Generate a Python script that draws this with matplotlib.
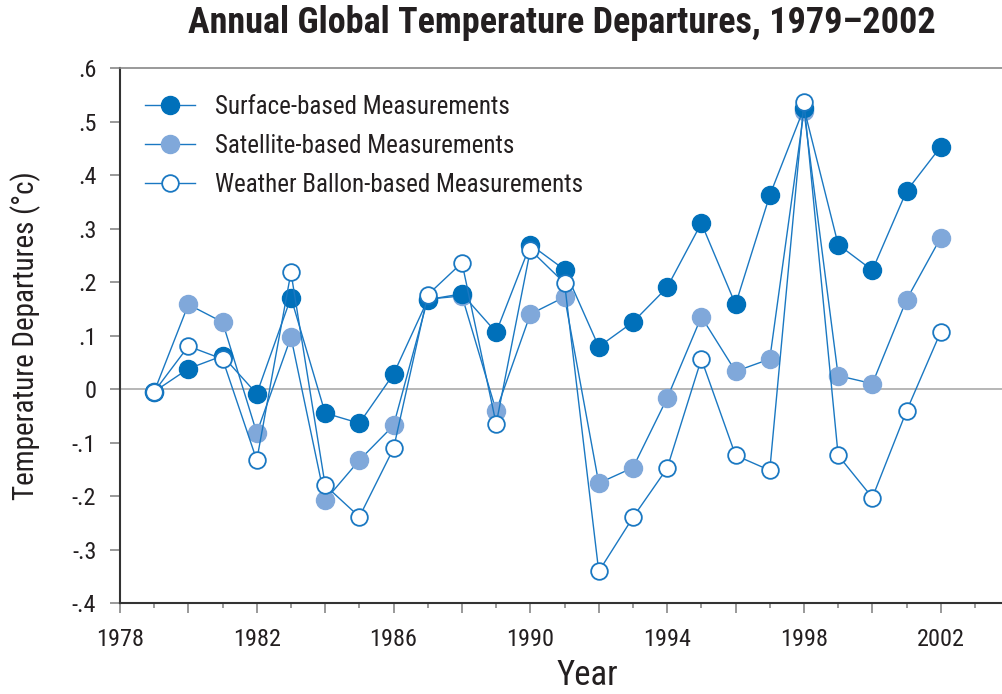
import matplotlib
matplotlib.use("Agg")
import matplotlib.pyplot as plt
from matplotlib.ticker import FixedLocator

plt.rcParams['font.family'] = ['Roboto Condensed', 'Liberation Sans', 'DejaVu Sans']

# Data
years = list(range(1979, 2003))
surface = [-0.005, 0.038, 0.062, -0.009, 0.171, -0.045, -0.064, 0.028, 0.167, 0.178,
           0.106, 0.270, 0.223, 0.079, 0.125, 0.190, 0.310, 0.158, 0.362, 0.525,
           0.270, 0.222, 0.370, 0.453]
satellite = [-0.005, 0.158, 0.125, -0.082, 0.097, -0.208, -0.133, -0.068, 0.168, 0.174,
             -0.041, 0.140, 0.172, -0.176, -0.147, -0.017, 0.135, 0.033, 0.056, 0.520,
             0.025, 0.010, 0.167, 0.283]
balloon = [-0.005, 0.080, 0.056, -0.133, 0.218, -0.180, -0.239, -0.111, 0.176, 0.236,
           -0.065, 0.260, 0.198, -0.341, -0.240, -0.148, 0.056, -0.124, -0.152, 0.537,
           -0.124, -0.203, -0.041, 0.107]

series_labels = ["Surface-based Measurements", "Satellite-based Measurements",
                 "Weather Ballon-based Measurements"]
yticks = [-0.4, -0.3, -0.2, -0.1, 0, 0.1, 0.2, 0.3, 0.4, 0.5, 0.6]
ytick_labels = ["-.4", "-.3", "-.2", "-.1", "0", ".1", ".2", ".3", ".4", ".5", ".6"]
xlabel_years = [1978, 1982, 1986, 1990, 1994, 1998, 2002]

line_col = "#1a78c2"
dark = "#0070ba"
light = "#80a8da"
txt = "#231f20"

fig = plt.figure(figsize=(10.03, 6.94), dpi=100)
ax = fig.add_axes([0.1196, 0.1311, 0.8804, 0.7709])

ax.axhline(0, color="#aaaaaa", lw=1.2, zorder=1)

ax.plot(years, surface, color=line_col, lw=1.0, marker="o", ms=13,
        mfc=dark, mec=dark, label=series_labels[0], zorder=3)
ax.plot(years, satellite, color=line_col, lw=1.0, marker="o", ms=13,
        mfc=light, mec=light, label=series_labels[1], zorder=2)
ax.plot(years, balloon, color=line_col, lw=1.0, marker="o", ms=12,
        mfc="white", mec=line_col, mew=1.3, label=series_labels[2], zorder=4)

ax.set_xlim(1978, 2003.82)
ax.set_ylim(-0.4, 0.6)

even_years = list(range(1978, 2004, 2))
odd_years = list(range(1979, 2004, 2))
ax.xaxis.set_major_locator(FixedLocator(even_years))
ax.xaxis.set_minor_locator(FixedLocator(odd_years))
ax.set_xticklabels([str(y) if y in xlabel_years else "" for y in even_years])
ax.set_yticks(yticks)
ax.set_yticklabels(ytick_labels)

ax.tick_params(axis="x", which="major", length=7, width=1.2, color="#888888",
               labelsize=17.5, pad=11, labelcolor=txt)
ax.tick_params(axis="x", which="minor", length=3.6, width=1.2, color="#888888")
ax.tick_params(axis="y", length=7, width=1.2, color="#888888",
               labelsize=17.5, pad=10, labelcolor=txt)

ax.spines["right"].set_visible(False)
ax.spines["top"].set_color("#888888")
ax.spines["top"].set_linewidth(1.2)
ax.spines["left"].set_color("#333333")
ax.spines["left"].set_linewidth(1.5)
ax.spines["bottom"].set_color("#333333")
ax.spines["bottom"].set_linewidth(1.5)

ax.set_xlabel("Year", fontsize=25, color=txt)
ax.xaxis.set_label_coords(0.529, -0.105)
ax.set_ylabel("Temperature Departures (°c)", fontsize=21, color=txt, labelpad=22)

fig.suptitle("Annual Global Temperature Departures, 1979–2002", fontsize=26,
             fontweight="bold", color=txt, x=0.56, y=0.993, va="top")

leg = ax.legend(loc="upper left", bbox_to_anchor=(0.0, 0.997), frameon=False,
                fontsize=18, handlelength=2.0, handletextpad=0.8, labelspacing=0.6,
                borderaxespad=0.6)
for t in leg.get_texts():
    t.set_color(txt)

fig.savefig("out.png", dpi=100)
